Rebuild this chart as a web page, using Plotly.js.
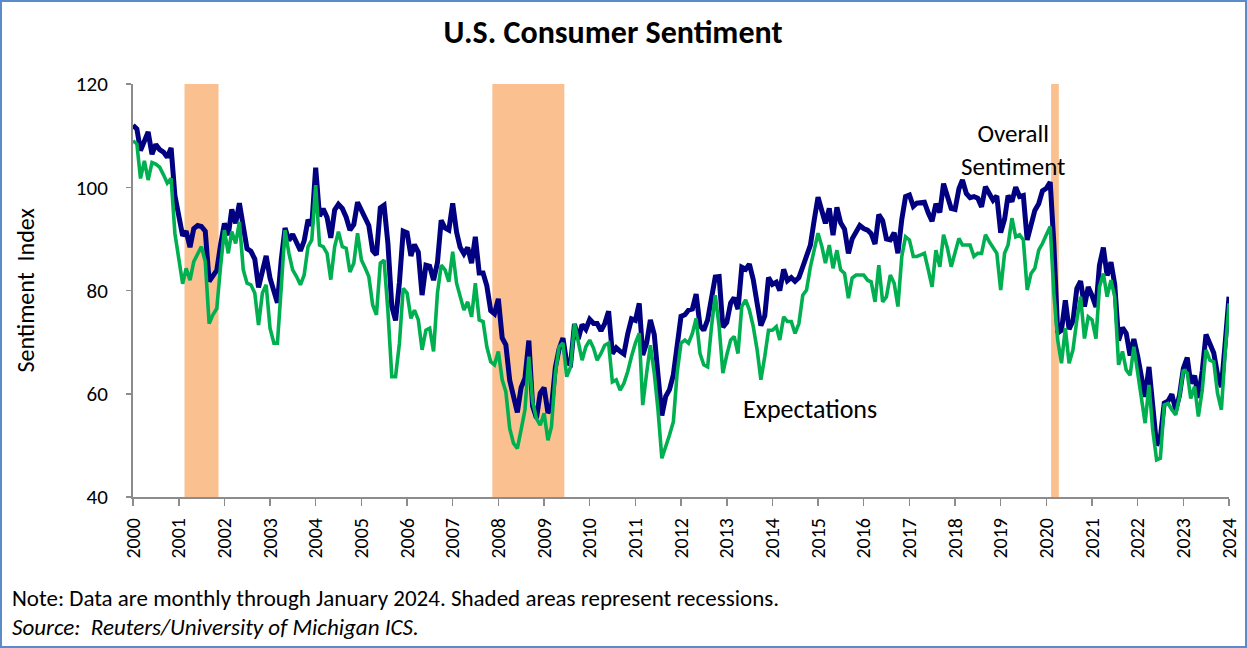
<!DOCTYPE html>
<html>
<head>
<meta charset="utf-8">
<script src="https://cdn.plot.ly/plotly-3.0.1.min.js"></script>
<style>
  html, body { margin: 0; padding: 0; background: #fff; }
  #wrap { position: relative; width: 1247px; height: 648px; }
  #chart { width: 1247px; height: 648px; }
  #frame { position: absolute; left: 0; top: 0; width: 1247px; height: 648px; box-sizing: border-box;
           border: 2px solid #5b8bc8; pointer-events: none; }
</style>
</head>
<body>
<div id="wrap"><div id="chart"></div><div id="frame"></div></div>
<script>
// Monthly data, January 2000 through January 2024
const startYear = 2000;

const sentiment = [
  112.0, 111.3, 107.1, 109.2, 110.7, 106.4, 108.3, 107.3, 106.8, 105.8, 107.6, 98.4,  // 2000
  94.7, 90.6, 91.5, 88.4, 92.0, 92.6, 92.4, 91.5, 81.8, 82.7, 83.9, 88.8,             // 2001
  93.0, 90.7, 95.7, 93.0, 96.9, 92.4, 88.1, 87.6, 86.1, 80.6, 84.2, 86.7,             // 2002
  82.4, 79.9, 77.6, 86.0, 92.1, 89.7, 90.9, 89.3, 87.7, 89.6, 93.7, 92.6,             // 2003
  103.8, 94.4, 95.8, 94.2, 90.2, 95.6, 96.7, 95.9, 94.2, 91.7, 92.8, 97.1,            // 2004
  95.5, 94.1, 92.6, 87.7, 86.9, 96.0, 96.5, 89.1, 76.9, 74.2, 81.6, 91.5,             // 2005
  91.2, 86.7, 88.9, 87.4, 79.1, 84.9, 84.7, 82.0, 85.4, 93.6, 92.1, 91.7,             // 2006
  96.9, 91.3, 88.4, 87.1, 88.3, 85.3, 90.4, 83.4, 83.4, 80.9, 76.1, 75.5,             // 2007
  78.4, 70.8, 69.5, 62.6, 59.8, 56.4, 61.2, 63.0, 70.3, 57.6, 55.3, 60.1,             // 2008
  61.2, 56.3, 57.3, 65.1, 68.7, 70.8, 66.0, 65.7, 73.5, 70.6, 73.4, 72.5,             // 2009
  74.4, 73.6, 73.6, 72.2, 73.6, 76.0, 67.8, 68.9, 68.2, 67.7, 71.6, 74.5,             // 2010
  74.2, 77.5, 67.5, 69.8, 74.3, 71.5, 63.7, 55.8, 59.5, 60.8, 63.7, 69.9,             // 2011
  75.0, 75.3, 76.2, 76.4, 79.3, 73.2, 72.3, 74.3, 78.3, 82.6, 82.7, 72.9,             // 2012
  73.8, 77.6, 78.6, 76.4, 84.5, 84.1, 85.1, 82.1, 77.5, 73.2, 75.1, 82.5,             // 2013
  81.2, 81.6, 80.0, 84.1, 81.9, 82.5, 81.8, 82.5, 84.6, 86.9, 88.8, 93.6,             // 2014
  98.1, 95.4, 93.0, 95.9, 90.7, 96.1, 93.1, 91.9, 87.2, 90.0, 91.3, 92.6,             // 2015
  92.0, 91.7, 91.0, 89.0, 94.7, 93.5, 90.0, 89.8, 91.2, 87.2, 93.8, 98.2,             // 2016
  98.5, 96.3, 96.9, 97.0, 97.1, 95.0, 93.4, 96.8, 95.1, 100.7, 98.5, 95.9,            // 2017
  95.7, 99.7, 101.4, 98.8, 98.0, 98.2, 97.9, 96.2, 100.1, 98.6, 97.5, 98.3,           // 2018
  91.2, 93.8, 98.4, 97.2, 100.0, 98.2, 98.4, 89.8, 93.2, 95.5, 96.8, 99.3,            // 2019
  99.8, 101.0, 89.1, 71.8, 72.3, 78.1, 72.5, 74.1, 80.4, 81.8, 76.9, 80.7,            // 2020
  79.0, 76.8, 84.9, 88.3, 82.9, 85.5, 81.2, 70.3, 72.8, 71.7, 67.4, 70.6,             // 2021
  67.2, 62.8, 59.4, 65.2, 58.4, 50.0, 51.5, 58.2, 58.6, 59.9, 56.8, 59.7,             // 2022
  64.9, 67.0, 62.0, 63.5, 59.2, 64.4, 71.5, 69.4, 67.9, 63.8, 61.3, 69.7,             // 2023
  78.8                                                                                 // 2024
];

const expectations = [
  109.0, 108.4, 101.7, 105.1, 101.4, 104.8, 104.5, 103.9, 102.4, 100.8, 101.7, 91.1,  // 2000
  86.2, 81.3, 84.3, 82.0, 85.6, 86.9, 88.5, 85.6, 73.6, 75.3, 76.5, 84.6,             // 2001
  91.7, 87.2, 91.4, 89.1, 93.3, 84.0, 81.4, 81.1, 79.5, 73.3, 79.5, 81.1,             // 2002
  72.7, 69.8, 69.8, 80.7, 91.7, 87.2, 84.0, 82.7, 81.1, 83.0, 88.5, 89.8,             // 2003
  100.4, 88.8, 88.5, 87.2, 82.1, 88.5, 91.4, 88.5, 88.2, 83.6, 85.3, 91.1,            // 2004
  85.9, 84.3, 82.7, 77.2, 75.3, 85.3, 85.9, 76.0, 63.3, 63.3, 69.8, 80.4,             // 2005
  79.5, 74.6, 76.2, 74.3, 68.5, 72.3, 72.7, 68.2, 79.5, 84.9, 84.0, 81.7,             // 2006
  87.5, 81.4, 78.8, 76.2, 77.8, 74.9, 81.4, 74.3, 74.0, 69.1, 66.2, 65.6,             // 2007
  68.2, 62.7, 60.4, 53.3, 50.4, 49.4, 53.0, 56.9, 67.2, 58.5, 55.2, 53.9,             // 2008
  56.2, 51.0, 53.6, 64.0, 69.1, 69.8, 63.3, 65.2, 73.6, 69.8, 66.5, 69.1,             // 2009
  70.4, 68.8, 66.5, 67.8, 69.4, 69.8, 62.3, 62.7, 60.7, 62.0, 64.3, 67.2,             // 2010
  69.8, 71.7, 57.8, 64.0, 69.4, 64.0, 56.9, 47.5, 49.7, 52.0, 54.6, 64.0,             // 2011
  69.8, 70.4, 69.8, 71.7, 74.6, 67.8, 65.6, 65.2, 73.0, 79.1, 73.0, 64.0,             // 2012
  67.5, 70.4, 71.1, 67.8, 76.9, 78.2, 76.2, 73.0, 68.5, 62.7, 67.2, 72.3,             // 2013
  72.3, 73.0, 70.4, 74.9, 74.0, 74.0, 71.7, 73.6, 79.1, 80.1, 84.6, 87.8,             // 2014
  91.1, 88.5, 85.3, 88.8, 84.3, 87.8, 84.0, 83.3, 78.5, 82.4, 83.0, 83.0,             // 2015
  83.0, 82.0, 81.7, 77.8, 84.9, 77.8, 78.8, 83.0, 81.4, 76.9, 86.6, 90.4,             // 2016
  89.8, 86.6, 86.6, 86.9, 87.2, 84.0, 80.7, 87.8, 84.6, 90.8, 88.2, 84.6,             // 2017
  87.2, 90.1, 88.8, 88.8, 88.8, 86.6, 87.2, 87.2, 90.8, 89.5, 88.2, 87.2,             // 2018
  80.1, 87.2, 88.8, 94.0, 90.4, 90.8, 89.8, 80.1, 83.3, 84.3, 87.8, 89.1,             // 2019
  90.8, 92.4, 79.5, 70.4, 65.9, 72.7, 65.9, 68.5, 74.3, 78.8, 70.7, 74.9,             // 2020
  74.3, 70.7, 80.7, 83.3, 78.8, 82.0, 78.8, 65.6, 68.2, 64.6, 63.6, 69.1,             // 2021
  64.0, 58.8, 54.3, 61.7, 53.0, 47.2, 47.5, 57.8, 58.1, 56.9, 55.9, 59.4,             // 2022
  64.6, 64.0, 59.1, 61.4, 55.6, 60.7, 68.5, 66.5, 66.2, 60.1, 56.9, 67.8,             // 2023
  77.5                                                                                 // 2024
];

// Recession periods (shaded)
const recessionStart = ["2001-02-16", "2007-11-14", "2020-02-08"];
const recessionEnd   = ["2001-11-15", "2009-06-12", "2020-04-10"];

const titleText = "U.S. Consumer Sentiment";
const yTitle = "Sentiment&#160;&#160;Index";
const noteText = "Note: Data are monthly through January 2024. Shaded areas represent recessions.";
const sourceText = "Source:  Reuters/University of Michigan ICS.";

// month dates
const months = sentiment.map((_, i) => {
  const y = startYear + Math.floor(i / 12);
  const m = (i % 12) + 1;
  return y + "-" + String(m).padStart(2, "0") + "-01";
});

const FONT = "Carlito, Lato, 'Open Sans', sans-serif";

const traces = [
  { x: months, y: sentiment, type: "scatter", mode: "lines", name: "Overall Sentiment",
    line: { color: "#000080", width: 5, shape: "linear" }, hoverinfo: "x+y" },
  { x: months, y: expectations, type: "scatter", mode: "lines", name: "Expectations",
    line: { color: "#00b050", width: 3.6, shape: "linear" }, hoverinfo: "x+y" }
];

const shapes = recessionStart.map((s, i) => ({
  type: "rect", xref: "x", yref: "y", x0: s, x1: recessionEnd[i], y0: 40, y1: 120,
  fillcolor: "#fac090", line: { width: 0 }, layer: "below"
}));

const layout = {
  width: 1247, height: 648,
  margin: { l: 133, r: 18, t: 84, b: 151 },
  paper_bgcolor: "#ffffff", plot_bgcolor: "#ffffff",
  showlegend: false,
  font: { family: FONT, color: "#000000", size: 18 },
  title: { text: "<b>" + titleText + "</b>", font: { family: FONT, size: 32, color: "#000" },
           xref: "container", x: 0.4916, xanchor: "center", yref: "container", y: 0.951, yanchor: "middle" },
  xaxis: {
    type: "date", range: ["2000-01-01", "2024-01-01"],
    tick0: "2000-01-01", dtick: "M12", tickformat: "%Y", tickangle: -90,
    ticks: "outside", ticklen: 7, tickwidth: 1.5, tickcolor: "#8c8c8c",
    showline: true, linecolor: "#8c8c8c", linewidth: 2, showgrid: false, zeroline: false,
    tickfont: { family: FONT, size: 20, color: "#000" }, ticklabelstandoff: 4
  },
  yaxis: {
    range: [40, 120], dtick: 20, tick0: 40,
    ticks: "outside", ticklen: 5, tickwidth: 1.5, tickcolor: "#8c8c8c",
    showline: true, linecolor: "#8c8c8c", linewidth: 2, showgrid: false, zeroline: false,
    tickfont: { family: FONT, size: 21, color: "#000" }, ticklabelstandoff: 14
  },
  shapes: shapes,
  annotations: [
    { text: yTitle, xref: "paper", yref: "paper", x: -0.0985, y: 0.50, textangle: -90,
      showarrow: false, xanchor: "center", yanchor: "middle", font: { family: FONT, size: 24 } },
    { text: "Overall<br>Sentiment", xref: "paper", yref: "paper", x: 0.803, y: 0.840,
      showarrow: false, xanchor: "center", yanchor: "middle", align: "center",
      font: { family: FONT, size: 25 } },
    { text: "Expectations", xref: "paper", yref: "paper", x: 0.6177, y: 0.213,
      showarrow: false, xanchor: "center", yanchor: "middle", font: { family: FONT, size: 26 } },
    { text: noteText, xref: "paper", yref: "paper", x: -0.1122, y: -0.2446,
      showarrow: false, xanchor: "left", yanchor: "middle", font: { family: FONT, size: 23 } },
    { text: "<i>" + sourceText + "</i>", xref: "paper", yref: "paper", x: -0.1122, y: -0.3148,
      showarrow: false, xanchor: "left", yanchor: "middle", font: { family: FONT, size: 23 } }
  ]
};

Plotly.newPlot("chart", traces, layout, { displayModeBar: false, staticPlot: true });
</script>
</body>
</html>
